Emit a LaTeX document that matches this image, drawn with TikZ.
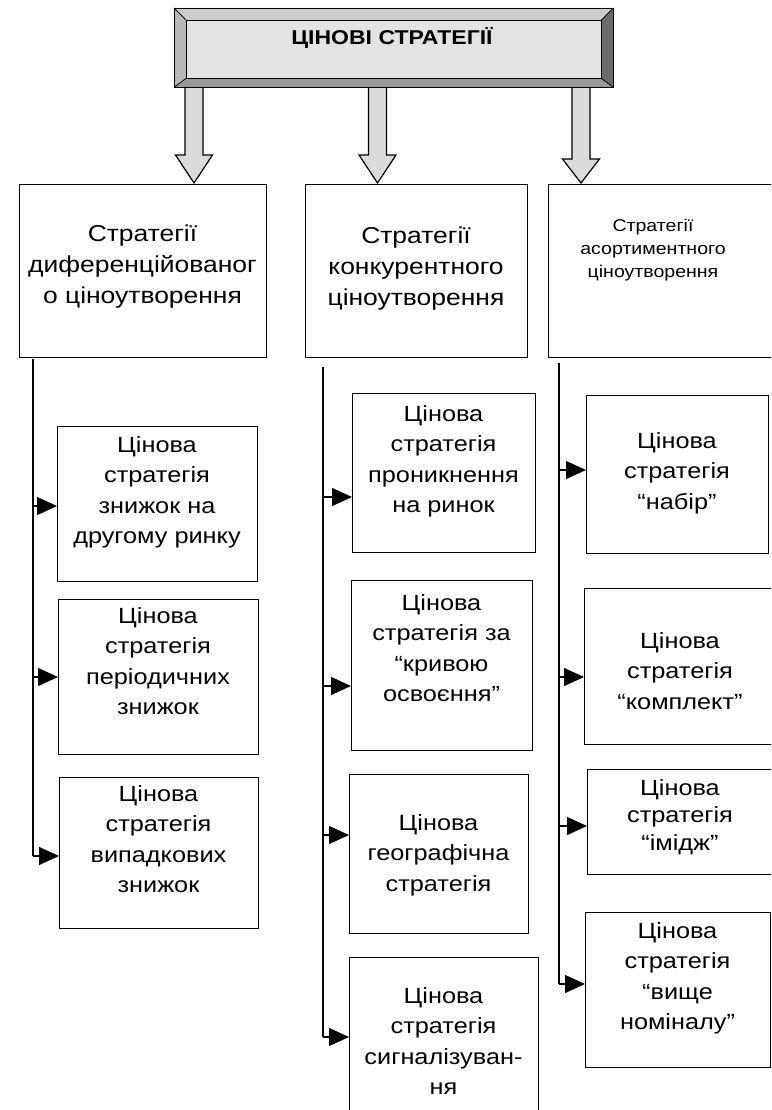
\documentclass[tikz,border=0pt]{standalone}
\usepackage{fontspec}
\setmainfont{Liberation Sans}[FakeStretch=1.15]
\usepackage{tikz}
\usetikzlibrary{arrows.meta,positioning,calc}

\definecolor{bevellight}{gray}{0.80}
\definecolor{bevelmid}{gray}{0.60}
\definecolor{beveldark}{gray}{0.42}
\definecolor{bannerfill}{gray}{0.89}
\definecolor{arrowfill}{gray}{0.86}

\begin{document}
\begin{tikzpicture}[x=1pt,y=-1pt]
		\tikzstyle{Box}		= [draw, line width=1.3pt, fill=white, anchor=north west, inner sep=0pt]
		\tikzstyle{Txt}		= [align=center, anchor=north, inner sep=0pt, font=\fontsize{22}{30.5}\selectfont]
		\tikzstyle{Head}	= [Txt, font=\fontsize{23}{31}\selectfont]
		\tikzstyle{Small}	= [Txt, font=\fontsize{17}{23}\selectfont]
		\tikzstyle{Frame}	= [anchor=north west, inner sep=0pt]
		\tikzstyle{Bevel}	= [draw, line width=0.8pt, line join=miter]
		\tikzstyle{BigArrow}	= [draw, line width=1.2pt, fill=arrowfill, line join=miter]
		\tikzstyle{Trunk}	= [line width=1.3pt]
		\tikzstyle{Link}	= [line width=1.3pt, -{Triangle[length=20pt, width=18pt]}]

		\useasboundingbox (0,0) rectangle (771,1110);
		\clip (0,0) rectangle (771,1110);

		% block arrows under the banner
		\foreach \x/\top/\neck in {194/83/155, 377.5/83/155, 581/86/159}
			\draw [BigArrow] (\x-9,\top) -- (\x+9,\top) -- (\x+9,\neck) -- (\x+18.5,\neck)
				-- (\x,183) -- (\x-18.5,\neck) -- (\x-9,\neck) -- cycle;

		% banner
		\node (ban) at (174,8) [Frame, minimum width=439pt, minimum height=79pt] {};
		\node (banin) at (186,20) [Frame, minimum width=415pt, minimum height=58pt] {};
		\fill [bevellight] (ban.north west) -- (ban.north east) -- (banin.north east) -- (banin.north west) -- cycle;
		\fill [bevellight!90!black] (ban.north west) -- (banin.north west) -- (banin.south west) -- (ban.south west) -- cycle;
		\fill [beveldark] (ban.north east) -- (ban.south east) -- (banin.south east) -- (banin.north east) -- cycle;
		\fill [bevelmid] (ban.south west) -- (banin.south west) -- (banin.south east) -- (ban.south east) -- cycle;
		\fill [bannerfill] (banin.north west) rectangle (banin.south east);
		\draw [Bevel] (ban.north west) rectangle (ban.south east);
		\draw [Bevel] (banin.north west) rectangle (banin.south east);
		\draw [Bevel] (ban.north west) -- (banin.north west);
		\draw [Bevel] (ban.north east) -- (banin.north east);
		\draw [Bevel] (ban.south west) -- (banin.south west);
		\draw [Bevel] (ban.south east) -- (banin.south east);
		\node (title) at (392,45) [anchor=base, inner sep=0pt, font=\fontsize{20}{24}\selectfont\bfseries] {ЦІНОВІ СТРАТЕГІЇ};

		% group boxes
		\node (h1) at (19,184) [Box, minimum width=247pt, minimum height=173pt] {};
		\node (h2) at (305,184) [Box, minimum width=222pt, minimum height=173pt] {};
		\node (h3) at (548,184) [Box, minimum width=240pt, minimum height=173pt] {};
		\node (h1t) at (142.5,225) [Head] {Стратегії\\диференційованог\\о ціноутворення};
		\node (h2t) at (416,227) [Head] {Стратегії\\конкурентного\\ціноутворення};
		\node (h3t) at (653,219) [Small] {Стратегії\\асортиментного\\ціноутворення};

		% first column
		\node (a) at (57,426) [Box, minimum width=200pt, minimum height=155pt] {};
		\node (b) at (58,599) [Box, minimum width=200pt, minimum height=155pt] {};
		\node (c) at (59,777) [Box, minimum width=199pt, minimum height=151pt] {};
		\node (at) at (157,436) [Txt] {Цінова\\стратегія\\знижок на\\другому ринку};
		\node (bt) at (158,607) [Txt] {Цінова\\стратегія\\періодичних\\знижок};
		\node (ct) at (158.5,785) [Txt] {Цінова\\стратегія\\випадкових\\знижок};

		% second column
		\node (d) at (352,393) [Box, minimum width=183pt, minimum height=159pt] {};
		\node (e) at (351,580) [Box, minimum width=181pt, minimum height=170pt] {};
		\node (f) at (349,774) [Box, minimum width=179pt, minimum height=159pt] {};
		\node (g) at (349,957) [Box, minimum width=189pt, minimum height=170pt] {};
		\node (dt) at (443.5,405) [Txt] {Цінова\\стратегія\\проникнення\\на ринок};
		\node (et) at (441.5,594) [Txt] {Цінова\\стратегія за\\“кривою\\освоєння”};
		\node (ft) at (438.5,814) [Txt] {Цінова\\географічна\\стратегія};
		\node (gt) at (443.5,987) [Txt] {Цінова\\стратегія\\сигналізуван-\\ня};

		% third column
		\node (h) at (586,395) [Box, minimum width=182pt, minimum height=158pt] {};
		\node (i) at (584,588) [Box, minimum width=192pt, minimum height=156pt] {};
		\node (j) at (587,769) [Box, minimum width=189pt, minimum height=105pt] {};
		\node (k) at (585,912) [Box, minimum width=185pt, minimum height=155pt] {};
		\node (ht) at (677,432) [Txt] {Цінова\\стратегія\\“набір”};
		\node (it) at (680,632) [Txt] {Цінова\\стратегія\\“комплект”};
		\node (jt) at (680,779) [Txt, font=\fontsize{22}{27.5}\selectfont] {Цінова\\стратегія\\“імідж”};
		\node (kt) at (677.5,922) [Txt] {Цінова\\стратегія\\“вище\\номіналу”};

		% trunks
		\coordinate (s1) at (33,359);
		\coordinate (e1) at (33,856);
		\coordinate (s2) at (323,367);
		\coordinate (e2) at (323,1037);
		\coordinate (s3) at (559,363);
		\coordinate (e3) at (559,984);
		\draw [Trunk] (s1) -- (e1);
		\draw [Trunk] (s2) -- (e2);
		\draw [Trunk] (s3) -- (e3);

		% branches
		\foreach \n/\x/\y in {a/33/506, b/33/677, c/33/856,
				d/323/497, e/323/686, f/323/835, g/323/1037,
				h/559/470, i/559/677, j/559/826, k/559/984} {
			\coordinate (p\n) at (\x,\y);
			\draw [Link] (p\n) -- (p\n -| \n.west);
		}
	\end{tikzpicture}
\end{document}
